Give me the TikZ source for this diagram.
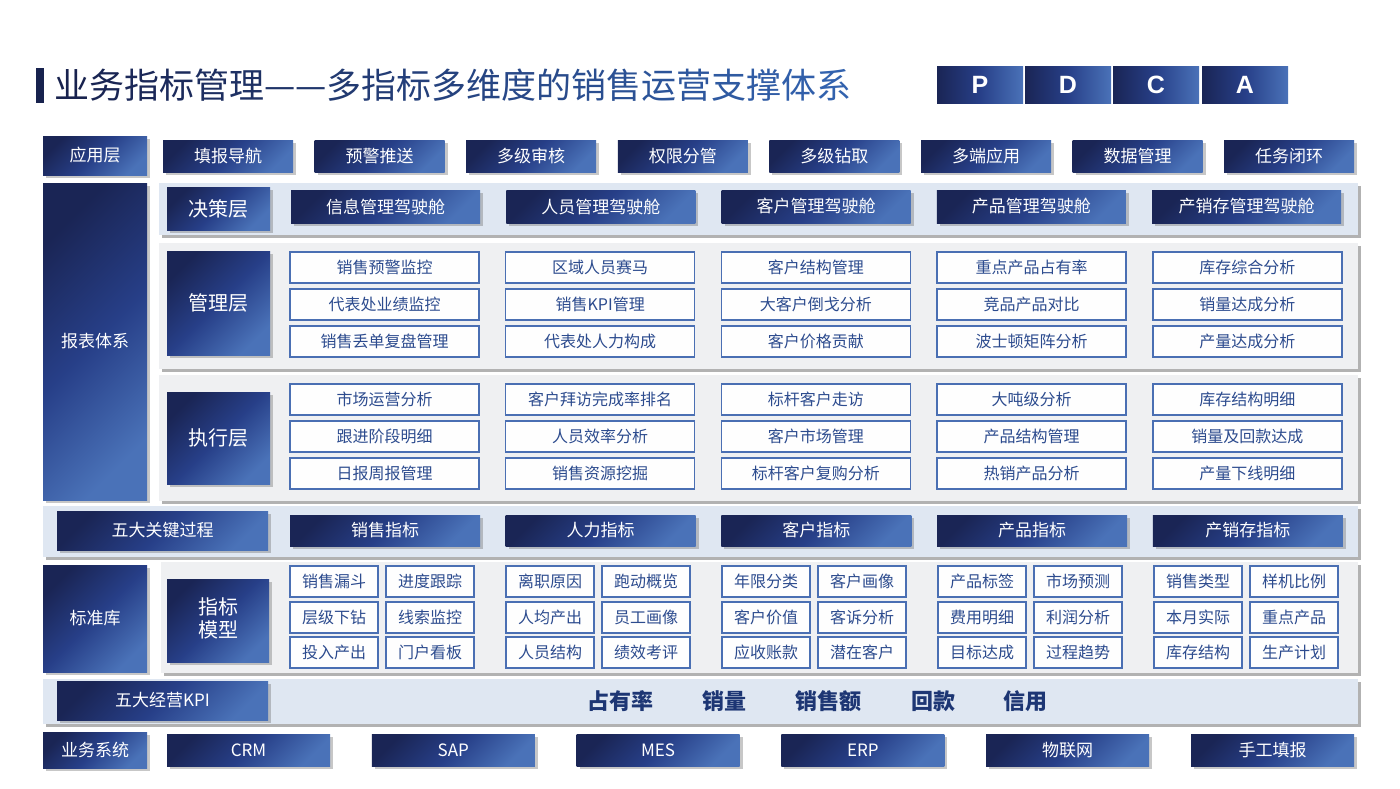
\documentclass[tikz,border=0pt]{standalone}
\usepackage{fontspec}
\setmainfont{Noto Sans CJK SC}
\newfontfamily\latinsans{Liberation Sans}
\usetikzlibrary{shadows}
\definecolor{dkA}{HTML}{1A2555}
\definecolor{dkB}{HTML}{273F88}
\definecolor{dkC}{HTML}{4A72B8}
\definecolor{tdark}{HTML}{18224E}
\definecolor{tlight}{HTML}{3262AE}
\definecolor{pblue}{HTML}{DFE7F2}
\definecolor{pgray}{HTML}{EFF0F2}
\definecolor{itemline}{HTML}{4A6FB3}
\definecolor{itemtext}{HTML}{2C4B8E}
\definecolor{kpitext}{HTML}{1D3674}
\tikzset{
  dbox/.style={top color=dkA, bottom color=dkC, middle color=dkB, shading angle=45,
    text=white, inner sep=0pt, outer sep=0pt,
    drop shadow={shadow xshift=3pt, shadow yshift=-3pt, fill=black!55, opacity=.4}},
  f17/.style={font=\fontsize{17}{20}\selectfont},
  f20/.style={font=\fontsize{20}{25}\selectfont},
  pdcabox/.style={left color=dkA, right color=dkC, middle color=dkB, text=white, inner sep=0pt,
    font=\latinsans\bfseries\fontsize{25}{28}\selectfont},
  pnlb/.style={fill=pblue, inner sep=0pt, outer sep=0pt,
    drop shadow={shadow xshift=2.5pt, shadow yshift=-2.5pt, fill=black!40, opacity=.75}},
  pnlg/.style={fill=pgray, inner sep=0pt, outer sep=0pt,
    drop shadow={shadow xshift=2.5pt, shadow yshift=-2.5pt, fill=black!40, opacity=.75}},
  itembox/.style={draw=itemline, line width=1.4pt, fill=white!96!pgray, text=itemtext,
    inner sep=0pt, font=\fontsize{16}{19}\selectfont},
  kpi/.style={text=kpitext, inner sep=0pt, font=\bfseries\fontsize{22}{26}\selectfont},
}
\newcommand\bx[7]{\node[#1, minimum width=#5pt, minimum height=#6pt] (#2) at ({#3+#5/2},{#4+#6/2}) {#7};}
\newcommand\gradtitle{%
\foreach \c [count=\i] in {业,务,指,标,管,理,—,—,多,指,标,多,维,度,的,销,售,运,营,支,撑,体,系}{%
\pgfmathtruncatemacro\p{100-(\i-1)*100/22}%
\textcolor{tdark!\p!tlight}{\c}}}
\begin{document}
\begin{tikzpicture}[x=1pt,y=-1pt]
\useasboundingbox (0,0) rectangle (1400,788);
\fill[white] (0,0) rectangle (1400,788);
% title
\fill[tdark] (36,68) rectangle (44,103);
\node[anchor=west, inner sep=0pt, font=\fontsize{35}{40}\selectfont] (title) at (54,85) {\gradtitle};
% PDCA
\bx{pdcabox}{P}{937}{66}{86}{37}{P}
\bx{pdcabox}{D}{1025}{66}{86}{37}{D}
\bx{pdcabox}{C}{1113}{66}{86}{37}{C}
\bx{pdcabox}{A}{1202}{66}{86}{37}{A}
% application layer
\bx{dbox,f17}{yyc}{43}{136}{104}{39}{应用层}
\foreach \t [count=\i from 0] in {填报导航,预警推送,多级审核,权限分管,多级钻取,多端应用,数据管理,任务闭环}{
  \pgfmathsetmacro\xx{163+151.6*\i}
  \bx{dbox,f17}{app\i}{\xx}{140}{130}{32}{\t}
}
% report system
\bx{dbox,f17}{bbtx}{43}{183}{104}{317}{报表体系}
% decision layer
\bx{pnlb}{pdec}{159}{183}{1199}{52}{}
\bx{dbox,f20}{jcc}{167}{187}{103}{43}{决策层}
\foreach \t [count=\i from 0] in {信息管理驾驶舱,人员管理驾驶舱,客户管理驾驶舱,产品管理驾驶舱,产销存管理驾驶舱}{
  \pgfmathsetmacro\xx{291+215.3*\i}
  \bx{dbox,f17}{cock\i}{\xx}{190}{189}{33}{\t}
}
% management layer
\bx{pnlg}{pman}{159}{243}{1199}{126}{}
\bx{dbox,f20}{glc}{167}{251}{103}{104}{管理层}
\foreach \a/\b/\c [count=\i from 0] in {销售预警监控/代表处业绩监控/销售丢单复盘管理,区域人员赛马/销售KPI管理/代表处人力构成,客户结构管理/大客户倒戈分析/客户价格贡献,重点产品占有率/竞品产品对比/波士顿矩阵分析,库存综合分析/销量达成分析/产量达成分析}{
  \pgfmathsetmacro\xx{290+215.7*\i}
  \bx{itembox}{m\i a}{\xx}{252}{189}{31}{\a}
  \bx{itembox}{m\i b}{\xx}{289}{189}{31}{\b}
  \bx{itembox}{m\i c}{\xx}{326}{189}{31}{\c}
}
% execution layer
\bx{pnlg}{pexe}{159}{375}{1199}{126}{}
\bx{dbox,f20}{zxc}{167}{392}{103}{92}{执行层}
\foreach \a/\b/\c [count=\i from 0] in {市场运营分析/跟进阶段明细/日报周报管理,客户拜访完成率排名/人员效率分析/销售资源挖掘,标杆客户走访/客户市场管理/标杆客户复购分析,大吨级分析/产品结构管理/热销产品分析,库存结构明细/销量及回款达成/产量下线明细}{
  \pgfmathsetmacro\xx{290+215.7*\i}
  \bx{itembox}{e\i a}{\xx}{384}{189}{31}{\a}
  \bx{itembox}{e\i b}{\xx}{421}{189}{31}{\b}
  \bx{itembox}{e\i c}{\xx}{458}{189}{31}{\c}
}
% five key processes
\bx{pnlb}{pproc}{43}{506}{1315}{51}{}
\bx{dbox,f17}{wdgj}{57}{511}{211}{39}{五大关键过程}
\foreach \t [count=\i from 0] in {销售指标,人力指标,客户指标,产品指标,产销存指标}{
  \pgfmathsetmacro\xx{290+215.7*\i}
  \bx{dbox,f17}{idx\i}{\xx}{515}{190}{31}{\t}
}
% standard library
\bx{dbox,f17}{bzk}{43}{565}{104}{107}{标准库}
\bx{pnlg}{pmod}{161}{562}{1197}{111}{}
\bx{dbox,f20}{zbmx}{167}{579}{102}{83}{\begin{tabular}{@{}c@{}}指标\\[-2pt]模型\end{tabular}}
\foreach \a/\b/\c/\d/\e/\f [count=\i from 0] in {销售漏斗/进度跟踪/层级下钻/线索监控/投入产出/门户看板,离职原因/跑动概览/人均产出/员工画像/人员结构/绩效考评,年限分类/客户画像/客户价值/客诉分析/应收账款/潜在客户,产品标签/市场预测/费用明细/利润分析/目标达成/过程趋势,销售类型/样机比例/本月实际/重点产品/库存结构/生产计划}{
  \pgfmathsetmacro\xx{290+216*\i}
  \pgfmathsetmacro\xy{386+216*\i}
  \bx{itembox}{s\i a}{\xx}{566}{88}{31}{\a}
  \bx{itembox}{s\i b}{\xy}{566}{88}{31}{\b}
  \bx{itembox}{s\i c}{\xx}{602}{88}{31}{\c}
  \bx{itembox}{s\i d}{\xy}{602}{88}{31}{\d}
  \bx{itembox}{s\i e}{\xx}{637}{88}{31}{\e}
  \bx{itembox}{s\i f}{\xy}{637}{88}{31}{\f}
}
% five KPIs
\bx{pnlb}{pkpi}{43}{679}{1315}{45}{}
\bx{dbox,f17}{wdkpi}{57}{681}{211}{39}{五大经营KPI}
\node[kpi] (k1) at (620,701) {占有率};
\node[kpi] (k2) at (724,701) {销量};
\node[kpi] (k3) at (828,701) {销售额};
\node[kpi] (k4) at (933,701) {回款};
\node[kpi] (k5) at (1025,701) {信用};
% business systems
\bx{dbox,f17}{ywxt}{43}{732}{104}{36}{业务系统}
\foreach \t [count=\i from 0] in {CRM,SAP,MES,ERP,物联网,手工填报}{
  \pgfmathsetmacro\xx{167+204.8*\i}
  \bx{dbox,f17}{sys\i}{\xx}{734}{163}{32}{\t}
}
\end{tikzpicture}
\end{document}
